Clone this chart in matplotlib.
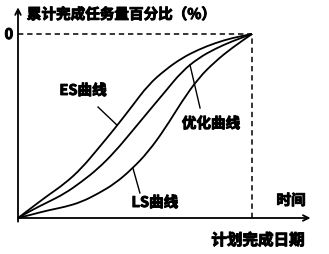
import matplotlib.pyplot as plt
import matplotlib.patheffects as pe
from matplotlib.path import Path
from matplotlib.patches import PathPatch
import numpy as np

plt.rcParams['font.family'] = ['Noto Sans CJK SC', 'DejaVu Sans']
plt.rcParams['font.weight'] = 'bold'

# time axis (% of planned completion) and cumulative completion (%)
t = np.array([0, 5.7, 12.9, 20.0, 27.1, 34.3, 41.4, 48.6, 55.7, 62.9, 70.0, 77.1, 84.3, 91.4, 100])
es_curve = np.array([0, 5.5, 12.4, 18.7, 26.9, 37.8, 48.7, 60.5, 72.4, 80.5, 86.9, 91.5, 95.1, 97.8, 100])
opt_curve = np.array([0, 4.2, 8.7, 13.3, 19.6, 26.9, 36.0, 46.9, 57.8, 68.7, 79.6, 86.9, 92.0, 96.0, 100])
ls_curve = np.array([0, 1.8, 4.2, 6.0, 8.7, 13.3, 18.7, 26.5, 36.0, 48.7, 63.3, 76.0, 85.1, 92.4, 100])

y_label = '累计完成任务量百分比（%）'
x_label = '时间'
plan_label = '计划完成日期'


def smooth_path(x, y):
    # quadratic bezier through midpoints, using the read points as controls
    pts = np.column_stack([x, y])
    verts = [pts[0]]
    codes = [Path.MOVETO]
    for i in range(1, len(pts) - 1):
        mid = (pts[i] + pts[i + 1]) / 2
        verts += [pts[i], mid]
        codes += [Path.CURVE3, Path.CURVE3]
    verts.append(pts[-1])
    codes.append(Path.LINETO)
    return Path(verts, codes)


fig = plt.figure(figsize=(3.29, 2.54), dpi=100)
ax = fig.add_axes([18 / 329, 36 / 254, 234 / 329, 184 / 254])
ax.set_xlim(0, 100)
ax.set_ylim(0, 100)
ax.axis('off')

for curve in [es_curve, opt_curve, ls_curve]:
    ax.add_patch(PathPatch(smooth_path(t, curve), fill=False, edgecolor='black',
                           lw=1.3, clip_on=False))

# dashed guides
ax.plot([0, 100], [100, 100], color='black', lw=1.1, ls=(0, (3.5, 2.5)), clip_on=False)
ax.plot([100, 100], [0, 100], color='black', lw=1.1, ls=(0, (3.5, 2.5)), clip_on=False)

# axes with arrows
arrow = dict(arrowstyle='->', color='black', lw=1.3, shrinkA=0, shrinkB=0)
ax.annotate('', xy=(125, 0), xytext=(0, 0), arrowprops=arrow, annotation_clip=False)
ax.annotate('', xy=(0, 114.5), xytext=(0, -2), arrowprops=arrow, annotation_clip=False)

heavy = [pe.withStroke(linewidth=0.7, foreground='black')]
txt = dict(fontsize=10.5, va='center', clip_on=False, path_effects=heavy)

ax.text(3.8, 110.9, y_label, ha='left', **txt)
ax.text(-2.1, 100, '0', ha='right', **txt)
ax.text(116.7, 9.8, x_label, ha='center', **txt)
ax.text(102.5, -12, plan_label, ha='center', **dict(txt, fontsize=11.2))

# curve labels with pointer lines
ax.text(27.8, 69.6, 'ES曲线', ha='center', **txt)
ax.plot([34.2, 42.3], [60.3, 50.5], color='black', lw=1.0)
ax.text(82.5, 51.6, '优化曲线', ha='center', **txt)
ax.plot([73.5, 77.8], [83.2, 59.8], color='black', lw=1.0)
ax.text(58.5, 8.7, 'LS曲线', ha='center', **txt)
ax.plot([49.1, 52.1], [27.2, 13.6], color='black', lw=1.0)

fig.savefig('out.png', dpi=100, facecolor='white')
